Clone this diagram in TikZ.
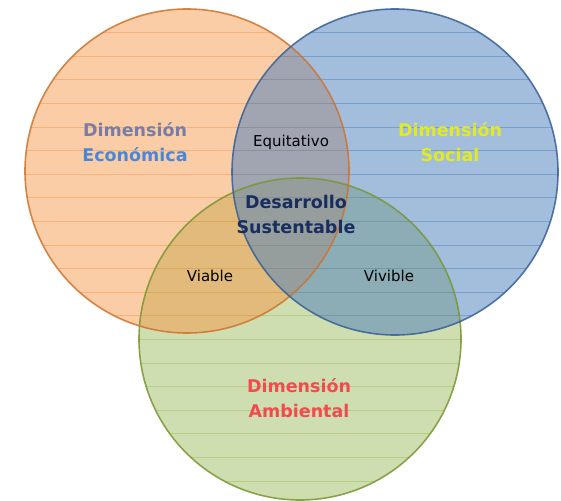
\documentclass[tikz,border=0pt]{standalone}
\usepackage{fontspec}
\setmainfont{DejaVu Sans}
\definecolor{cOr}{RGB}{247,150,70}
\definecolor{cBl}{RGB}{79,129,189}
\definecolor{cGr}{RGB}{155,187,89}
\definecolor{eOr}{RGB}{205,115,45}
\definecolor{eBl}{RGB}{55,95,150}
\definecolor{eGr}{RGB}{120,150,50}
\definecolor{tEcoA}{RGB}{120,125,165}
\definecolor{tEcoB}{RGB}{75,135,215}
\definecolor{tSoc}{RGB}{225,235,35}
\definecolor{tAmb}{RGB}{240,75,80}
\definecolor{tDes}{RGB}{25,45,95}
\begin{document}
\begin{tikzpicture}[x=1pt,y=-1pt,
  big/.style={font=\fontsize{17.5}{20}\selectfont\bfseries, inner sep=0pt},
  small/.style={font=\fontsize{15}{17}\selectfont, text=black, inner sep=0pt},
  stripe/.style={line width=0.9pt}]
\useasboundingbox (0,0) rectangle (561,500);
% circle geometry
\coordinate (oc) at (187,171);
\coordinate (bc) at (395,172);
\coordinate (gc) at (300,339);
% fills (green, orange, blue)
\fill[cGr, fill opacity=0.48] (gc) circle (161);
\fill[cOr, fill opacity=0.48] (oc) circle (162);
\fill[cBl, fill opacity=0.52] (bc) circle (163);
% stripes
\begin{scope}
  \clip (gc) circle (161);
  \foreach \k in {0,...,21} {\draw[stripe, cGr, opacity=0.5] (0,{9.1+23.6*\k}) -- (561,{9.1+23.6*\k});}
\end{scope}
\begin{scope}
  \clip (oc) circle (162);
  \foreach \k in {0,...,21} {\draw[stripe, cOr, opacity=0.5] (0,{9.1+23.6*\k}) -- (561,{9.1+23.6*\k});}
\end{scope}
\begin{scope}
  \clip (bc) circle (163);
  \foreach \k in {0,...,21} {\draw[stripe, cBl, opacity=0.5] (0,{9.1+23.6*\k}) -- (561,{9.1+23.6*\k});}
\end{scope}
% outlines
\draw[eGr, line width=1.6pt, draw opacity=0.85] (gc) circle (161);
\draw[eOr, line width=1.6pt, draw opacity=0.85] (oc) circle (162);
\draw[eBl, line width=1.6pt, draw opacity=0.85] (bc) circle (163);
% labels
\node[big, text=tEcoA] (eco1) at (135,130) {Dimensión};
\node[big, text=tEcoB] (eco2) at (135,155) {Económica};
\node[big, text=tSoc] (soc1) at (450,130) {Dimensión};
\node[big, text=tSoc] (soc2) at (450,155) {Social};
\node[big, text=tAmb] (amb1) at (299,386) {Dimensión};
\node[big, text=tAmb] (amb2) at (299,411) {Ambiental};
\node[big, text=tDes] (des1) at (296,202) {Desarrollo};
\node[big, text=tDes] (des2) at (296,227) {Sustentable};
\node[small] (equ) at (291,142) {Equitativo};
\node[small] (via) at (210,276) {Viable};
\node[small] (viv) at (389,276) {Vivible};
\end{tikzpicture}
\end{document}
